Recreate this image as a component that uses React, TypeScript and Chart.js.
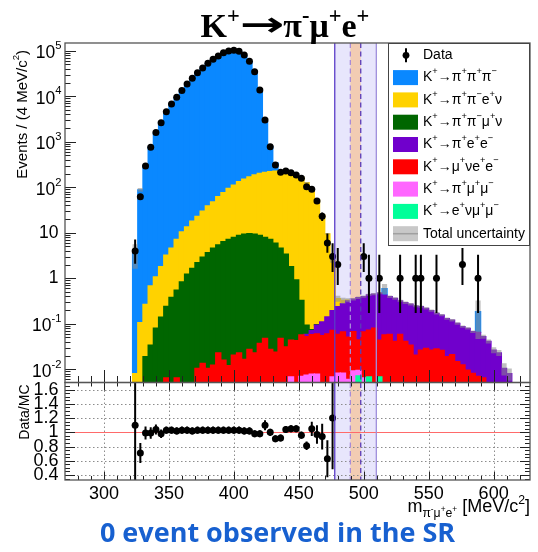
import React, { useEffect, useRef } from 'react';
import { Chart, registerables } from 'chart.js';

Chart.register(...registerables);

// ---------------- data ----------------
// bin centres, 4 MeV/c^2 bins
const binCenters = [
  324, 328, 332, 336, 340, 344, 348, 352, 356, 360,
  364, 368, 372, 376, 380, 384, 388, 392, 396, 400,
  404, 408, 412, 416, 420, 424, 428, 432, 436, 440,
  444, 448, 452, 456, 460, 464, 468, 472, 476, 480,
  484, 488, 492, 496, 500, 504, 508, 512, 516, 520,
  524, 528, 532, 536, 540, 544, 548, 552, 556, 560,
  564, 568, 572, 576, 580, 584, 588, 592, 596, 600,
  604, 608, 612,
];

const kPiPiPi = [
  3.6, 88, 297, 764, 1529, 2678, 4447, 6595, 9213, 12890,
  18046, 24182, 31977, 40670, 51511, 63052, 74638, 88124, 96005, 99388,
  94567, 78350, 57430, 35214, 13797, 2526, 560, 115, 3, 0,
  0, 0, 0, 0, 0, 0, 0, 0, 0, 0,
  0, 0, 0, 0, 0, 0, 0, 0, 0.17, 0,
  0, 0, 0, 0, 0, 0, 0, 0, 0, 0,
  0, 0, 0, 0, 0, 0, 0.12, 0, 0, 0,
  0, 0, 0,
];
const kPiPiENu = [
  0.008, 0.106, 0.25, 0.65, 1.0, 1.66, 3.0, 4.2, 6.65, 9.7,
  12.3, 16.3, 20.8, 27.1, 35.3, 43.4, 56.6, 69.6, 87.8, 104,
  124, 141, 160, 177, 194, 206, 213, 222, 225, 216,
  197, 176, 165, 126, 86, 52, 24.5, 9.3, 2.3, 0.12,
  0.05, 0.01, 0, 0, 0, 0, 0, 0, 0, 0,
  0, 0, 0, 0, 0, 0, 0, 0, 0, 0,
  0, 0, 0, 0, 0, 0, 0, 0, 0, 0,
  0, 0, 0,
];
const kPiPiMuNu = [
  0, 0, 0.019, 0.034, 0.08, 0.14, 0.235, 0.38, 0.545, 0.84,
  1.24, 1.66, 2.19, 2.89, 3.64, 4.59, 5.38, 6.38, 7.19, 7.88,
  8.78, 9.38, 9.57, 9.38, 8.76, 7.85, 7.17, 5.88, 4.55, 3.37,
  1.76, 0.88, 0.27, 0.035, 0.004, 0.002, 0, 0, 0, 0,
  0, 0, 0, 0, 0, 0, 0, 0, 0, 0,
  0, 0, 0, 0, 0, 0, 0, 0, 0, 0,
  0, 0, 0, 0, 0, 0, 0, 0, 0, 0,
  0, 0, 0,
];
const kPiEE = [
  0, 0, 0, 0, 0, 0, 0, 0, 0, 0,
  0, 0, 0, 0, 0, 0, 0, 0, 0, 0,
  0, 0, 0, 0, 0, 0, 0, 0, 0, 0,
  0, 0, 0, 0.006, 0.013, 0.034, 0.055, 0.083, 0.122, 0.18,
  0.21, 0.27, 0.28, 0.33, 0.33, 0.36, 0.37, 0.43, 0.37, 0.335,
  0.32, 0.26, 0.25, 0.236, 0.225, 0.213, 0.19, 0.168, 0.142, 0.129,
  0.111, 0.099, 0.087, 0.0745, 0.07, 0.059, 0.058, 0.0455, 0.041, 0.0265,
  0.023, 0.0105, 0.008,
];
const kMuNuEE = [
  0, 0, 0, 0, 0, 0, 0.0065, 0, 0.0065, 0,
  0, 0, 0.0105, 0.0135, 0.0105, 0.0124, 0.023, 0.016, 0.012, 0.0206,
  0.023, 0.0166, 0.0275, 0.023, 0.037, 0.048, 0.0275, 0.024, 0.048, 0.031,
  0.037, 0.043, 0.05, 0.045, 0.05, 0.052, 0.055, 0.06, 0.065, 0.05,
  0.058, 0.045, 0.058, 0.035, 0.06, 0.066, 0.08, 0.037, 0.057, 0.059,
  0.041, 0.059, 0.041, 0.034, 0.0206, 0.0265, 0.029, 0.0265, 0.028, 0.026,
  0.019, 0.021, 0.0147, 0.0125, 0.0096, 0.0082, 0.007, 0.0065, 0, 0,
  0, 0, 0,
];
const kPiMuMu = [
  0, 0, 0, 0, 0, 0, 0, 0, 0, 0,
  0, 0, 0, 0, 0, 0, 0, 0, 0, 0,
  0, 0, 0, 0, 0, 0, 0, 0, 0, 0,
  0.0068, 0, 0.007, 0.0075, 0.0078, 0.0078, 0, 0, 0.0068, 0.0083,
  0.0083, 0.006, 0.0092, 0.0023, 0.0065, 0, 0, 0, 0, 0,
  0, 0, 0, 0, 0, 0, 0, 0, 0, 0,
  0, 0, 0, 0, 0, 0, 0, 0, 0, 0,
  0, 0, 0,
];
const kENuMuMu = [
  0, 0, 0, 0, 0, 0, 0, 0, 0, 0,
  0, 0, 0, 0, 0, 0, 0, 0, 0, 0,
  0, 0, 0, 0, 0, 0, 0, 0, 0, 0,
  0, 0, 0, 0, 0, 0, 0, 0, 0, 0,
  0, 0, 0, 0.0072, 0, 0.0068, 0, 0.0068, 0, 0,
  0, 0, 0, 0, 0, 0, 0, 0, 0, 0,
  0, 0, 0, 0, 0, 0, 0, 0, 0, 0,
  0, 0, 0,
];
// relative total MC uncertainty per bin
const mcRelUncertainty = [
  0.55, 0.1, 0.03, 0.03, 0.03, 0.03, 0.03, 0.03, 0.03, 0.03,
  0.03, 0.03, 0.03, 0.03, 0.03, 0.03, 0.03, 0.03, 0.03, 0.03,
  0.03, 0.03, 0.03, 0.03, 0.03, 0.03, 0.03, 0.03, 0.03, 0.03,
  0.03, 0.03, 0.03, 0.03, 0.03, 0.03, 0.03, 0.03, 0.12, 0.15,
  0.15, 0.1, 0.06, 0.06, 0.06, 0.06, 0.06, 0.06, 0.25, 0.06,
  0.06, 0.06, 0.06, 0.06, 0.06, 0.06, 0.06, 0.06, 0.06, 0.06,
  0.06, 0.06, 0.06, 0.06, 0.06, 0.06, 0.75, 0.1, 0.1, 0.15,
  0.15, 0.3, 0.3,
];
// observed events (null = empty bin)
const dataCounts = [
  4, 62, 294, 757, 1590, 2630, 4580, 6800, 9500, 13300,
  18600, 24900, 33000, 41900, 53100, 65000, 76900, 90800, 99000, 102500,
  97500, 80900, 58800, 34700, 13700, 3010, 780, 309, 214, 228,
  209, 186, 158, 103, 90, 50, 23, 6, 3, 2,
  null, null, null, null, 3, 1, null, 1, null, null,
  null, 1, null, null, 1, 1, null, null, 1, null,
  null, null, null, 2, null, null, 1, null, null, null,
  null, null, null,
];
// Data/MC ratio (first 39 bins)
const ratioValues = [
  1.10, 0.71, 0.99, 0.99, 1.04, 0.98, 1.03, 1.03, 1.02, 1.03,
  1.03, 1.02, 1.03, 1.03, 1.03, 1.03, 1.03, 1.03, 1.03, 1.03,
  1.03, 1.02, 1.02, 0.98, 0.98, 1.10, 1.00, 0.91, 0.92, 1.04,
  1.05, 1.05, 0.96, 0.81, 1.05, 0.97, 0.94, 0.63, 1.20,
];
const ratioErrLow = [
  1.2, 0.14, 0.09, 0.08, 0.07, 0.06, 0.05, 0.05, 0.05, 0.05,
  0.05, 0.05, 0.05, 0.05, 0.05, 0.05, 0.05, 0.05, 0.05, 0.05,
  0.05, 0.05, 0.05, 0.05, 0.05, 0.07, 0.05, 0.05, 0.05, 0.05,
  0.05, 0.05, 0.05, 0.06, 0.1, 0.13, 0.18, 0.26, 0.72,
];
const ratioErrHigh = [
  1.2, 0.14, 0.09, 0.08, 0.07, 0.06, 0.05, 0.05, 0.05, 0.05,
  0.05, 0.05, 0.05, 0.05, 0.05, 0.05, 0.05, 0.05, 0.05, 0.05,
  0.05, 0.05, 0.05, 0.05, 0.05, 0.07, 0.05, 0.05, 0.05, 0.05,
  0.05, 0.05, 0.05, 0.06, 0.1, 0.13, 0.18, 0.26, 1.0,
];

const xTickLabels = ['300', '350', '400', '450', '500', '550', '600'];
const ratioTickLabels = ['0.4', '0.6', '0.8', '1', '1.2', '1.4', '1.6'];
const logTickExponents = [-2, -1, 0, 1, 2, 3, 4, 5];
const logTickLabels = ['10^{-2}', '10^{-1}', '1', '10', '10^{2}', '10^{3}', '10^{4}', '10^{5}'];
const srOuter = [477.68, 509.68];
const srInner = [489.68, 497.68];

const titleText = 'K^{+}→π^{-}μ^{+}e^{+}';
const yTitle = 'Events / (4 MeV/c^{2})';
const ratioTitle = 'Data/MC';
const xTitle = 'm_{π^{-}μ^{+}e^{+}} [MeV/c^{2}]';
const captionText = '0 event observed in the SR';

// stack, bottom -> top
const stackDefs = [
  { label: 'K^{+}→e^{+}νμ^{+}μ^{−}', values: kENuMuMu, color: '#00ff99' },
  { label: 'K^{+}→π^{+}μ^{+}μ^{−}', values: kPiMuMu, color: '#ff66ff' },
  { label: 'K^{+}→μ^{+}νe^{+}e^{−}', values: kMuNuEE, color: '#ff0000' },
  { label: 'K^{+}→π^{+}e^{+}e^{−}', values: kPiEE, color: '#7000cc' },
  { label: 'K^{+}→π^{+}π^{−}μ^{+}ν', values: kPiPiMuNu, color: '#006600' },
  { label: 'K^{+}→π^{+}π^{−}e^{+}ν', values: kPiPiENu, color: '#ffd200' },
  { label: 'K^{+}→π^{+}π^{+}π^{−}', values: kPiPiPi, color: '#0a88ff' },
];

const poisson68: Record<number, [number, number]> = {
  1: [0.173, 3.3], 2: [0.708, 4.638], 3: [1.367, 5.918], 4: [2.086, 7.163],
  5: [2.84, 8.382], 6: [3.62, 9.584], 7: [4.419, 10.77], 8: [5.232, 11.95],
  9: [6.057, 13.11], 10: [6.891, 14.27],
};
function dataInterval(n: number): [number, number] {
  if (n <= 10) return poisson68[n];
  const s = Math.sqrt(n);
  return [n - s, n + s];
}

// ---------------- drawing helpers ----------------
const SANS = "'Liberation Sans', Arial, Helvetica, sans-serif";
const SERIF = "'Liberation Serif', 'Times New Roman', serif";

type Seg = { t: string; s: number; dy: number };
function parseRich(str: string, supScale: number, scale = 1, dy = 0, out: Seg[] = []): Seg[] {
  let buf = '';
  let i = 0;
  const flush = () => {
    if (buf) out.push({ t: buf, s: scale, dy });
    buf = '';
  };
  while (i < str.length) {
    const c = str[i];
    if ((c === '^' || c === '_') && str[i + 1] === '{') {
      flush();
      let depth = 0;
      let j = i + 1;
      for (; j < str.length; j++) {
        if (str[j] === '{') depth++;
        else if (str[j] === '}') {
          depth--;
          if (depth === 0) break;
        }
      }
      const inner = str.slice(i + 2, j);
      const ns = scale * supScale;
      const ndy = dy + (c === '^' ? -0.42 * scale : 0.3 * scale);
      parseRich(inner, supScale, ns, ndy, out);
      i = j + 1;
    } else {
      buf += c;
      i++;
    }
  }
  flush();
  return out;
}

type RichOpts = {
  family?: string; weight?: string; align?: 'left' | 'right' | 'center'; color?: string;
  baseline?: CanvasTextBaseline; supScale?: number;
  arrowInk?: number; arrowGap?: number; arrowFamily?: string; arrowLift?: number;
};

function drawRich(ctx: CanvasRenderingContext2D, str: string, x: number, y: number, size: number, o: RichOpts) {
  const family = o.family || SANS;
  const weight = o.weight || 'normal';
  const raw = parseRich(str, o.supScale || 0.64);
  // arrows get their own segments so they can be drawn at a chosen ink length
  const segs: Seg[] = [];
  for (const g of raw) {
    const parts = g.t.split(/(→)/).filter((p) => p.length);
    for (const p of parts) segs.push({ t: p, s: g.s, dy: g.dy });
  }
  const fontFor = (g: Seg) => {
    const fam = g.t === '→' && o.arrowFamily ? o.arrowFamily : family;
    return `${weight} ${size * g.s}px ${fam}`;
  };
  const widths: number[] = [];
  const arrowInfo: any[] = [];
  let total = 0;
  for (const g of segs) {
    const fs = size * g.s;
    ctx.font = fontFor(g);
    const m = ctx.measureText(g.t);
    let w = m.width;
    if (g.t === '→' && o.arrowInk) {
      const inkL = -m.actualBoundingBoxLeft;
      const inkR = m.actualBoundingBoxRight;
      const inkW = Math.max(inkR - inkL, 1);
      const target = o.arrowInk * fs;
      const gap = (o.arrowGap || 0) * fs;
      const sx = target / inkW;
      arrowInfo.push({ sx, inkL, gap, lift: (o.arrowLift || 0) * fs });
      w = target + 2 * gap;
    } else {
      arrowInfo.push(null);
    }
    widths.push(w);
    total += w;
  }
  let cx = o.align === 'right' ? x - total : o.align === 'center' ? x - total / 2 : x;
  ctx.textAlign = 'left';
  ctx.textBaseline = o.baseline || 'alphabetic';
  ctx.fillStyle = o.color || '#000';
  segs.forEach((g, k) => {
    ctx.font = fontFor(g);
    const a = arrowInfo[k];
    if (a) {
      ctx.save();
      ctx.translate(cx + a.gap - a.inkL * a.sx, y + g.dy * size - a.lift);
      ctx.scale(a.sx, 1);
      ctx.fillText(g.t, 0, 0);
      ctx.restore();
    } else {
      ctx.fillText(g.t, cx, y + g.dy * size);
    }
    cx += widths[k];
  });
  return total;
}

function seg(ctx: CanvasRenderingContext2D, x1: number, y1: number, x2: number, y2: number) {
  ctx.beginPath();
  ctx.moveTo(x1, y1);
  ctx.lineTo(x2, y2);
  ctx.stroke();
}

const hepPlugin = {
  id: 'hep',
  beforeDatasetDraw(chart: any, args: any) {
    const ys = args.meta.yScale;
    const ca = chart.chartArea;
    const ctx = chart.ctx;
    ctx.save();
    ctx.beginPath();
    ctx.rect(ca.left, ys.top, ca.right - ca.left, ys.bottom - ys.top);
    ctx.clip();
  },
  afterDatasetDraw(chart: any) {
    chart.ctx.restore();
  },
  beforeDatasetsDraw(chart: any) {
    const ctx: CanvasRenderingContext2D = chart.ctx;
    const ca = chart.chartArea;
    const xs = chart.scales.x;
    const ys = chart.scales.y;
    const rs = chart.scales.y2;
    const top = ys.top;
    const bot = rs.bottom;
    ctx.save();
    const xo1 = xs.getPixelForValue(srOuter[0]);
    const xo2 = xs.getPixelForValue(srOuter[1]);
    const xi1 = xs.getPixelForValue(srInner[0]);
    const xi2 = xs.getPixelForValue(srInner[1]);
    ctx.fillStyle = '#e8e6fc';
    ctx.fillRect(xo1, top, xo2 - xo1, bot - top);
    ctx.fillStyle = '#f2ccb3';
    ctx.fillRect(xi1, top, xi2 - xi1, bot - top);
    // ratio grid
    ctx.strokeStyle = '#8c8c8c';
    ctx.lineWidth = 1;
    ctx.setLineDash([1.5, 2.5]);
    for (const lab of ratioTickLabels) {
      const v = Number(lab);
      if (v === 1) continue;
      const py = Math.round(rs.getPixelForValue(v)) + 0.5;
      seg(ctx, ca.left, py, ca.right, py);
    }
    for (const lab of xTickLabels) {
      const px = Math.round(xs.getPixelForValue(Number(lab))) + 0.5;
      seg(ctx, px, rs.top, px, rs.bottom);
    }
    ctx.setLineDash([]);
    ctx.strokeStyle = '#ff6a6a';
    const p1 = Math.round(rs.getPixelForValue(1)) + 0.5;
    seg(ctx, ca.left, p1, ca.right, p1);
    ctx.restore();
  },
  afterDatasetsDraw(chart: any) {
    const ctx: CanvasRenderingContext2D = chart.ctx;
    const ca = chart.chartArea;
    const xs = chart.scales.x;
    const ys = chart.scales.y;
    const rs = chart.scales.y2;
    ctx.save();

    // data error bars (main)
    ctx.save();
    ctx.beginPath();
    ctx.rect(ca.left, ys.top, ca.right - ca.left, ys.bottom - ys.top);
    ctx.clip();
    ctx.strokeStyle = '#000';
    ctx.lineWidth = 2;
    binCenters.forEach((m, i) => {
      const n = dataCounts[i];
      if (!n) return;
      const [lo, hi] = dataInterval(n);
      const px = xs.getPixelForValue(m);
      seg(ctx, px, ys.getPixelForValue(Math.max(lo, ys.min)), px, ys.getPixelForValue(hi));
    });
    ctx.restore();

    // ratio error bars
    ctx.save();
    ctx.beginPath();
    ctx.rect(ca.left, rs.top, ca.right - ca.left, rs.bottom - rs.top);
    ctx.clip();
    ctx.strokeStyle = '#000';
    ctx.lineWidth = 2;
    ratioValues.forEach((r, i) => {
      const px = xs.getPixelForValue(binCenters[i]);
      seg(ctx, px, rs.getPixelForValue(r - ratioErrLow[i]), px, rs.getPixelForValue(r + ratioErrHigh[i]));
    });
    ctx.restore();

    // SR lines
    const top = ys.top;
    const bot = rs.bottom;
    const xo1 = xs.getPixelForValue(srOuter[0]);
    const xo2 = xs.getPixelForValue(srOuter[1]);
    const xi1 = xs.getPixelForValue(srInner[0]);
    const xi2 = xs.getPixelForValue(srInner[1]);
    ctx.lineWidth = 1.3;
    ctx.strokeStyle = '#5a3cc8';
    seg(ctx, xo1, top, xo1, bot);
    ctx.strokeStyle = '#9f90dc';
    seg(ctx, xo2, top, xo2, bot);
    ctx.setLineDash([5, 3.5]);
    ctx.strokeStyle = '#a88bd8';
    seg(ctx, xi1, top, xi1, bot);
    ctx.strokeStyle = '#5b3bb5';
    seg(ctx, xi2, top, xi2, bot);
    ctx.setLineDash([]);

    // ticks
    ctx.strokeStyle = '#222';
    ctx.lineWidth = 1;
    for (let m = 280; m <= 620; m += 10) {
      const px = Math.round(xs.getPixelForValue(m)) + 0.5;
      const major = m % 50 === 0;
      seg(ctx, px, ys.bottom, px, ys.bottom - (major ? 12.5 : 6.5));
      seg(ctx, px, rs.bottom, px, rs.bottom - (major ? 8 : 4));
      seg(ctx, px, rs.top, px, rs.top + (major ? 8 : 4));
    }
    for (let e = -3; e <= 5; e++) {
      for (let d = 1; d <= 9; d++) {
        const v = d * Math.pow(10, e);
        if (v < ys.min || v > ys.max) continue;
        const py = Math.round(ys.getPixelForValue(v)) + 0.5;
        seg(ctx, ca.left, py, ca.left + (d === 1 ? 11 : 5.5), py);
      }
    }
    for (let k = 7; k <= 34; k++) {
      const v = k * 0.05;
      if (v < rs.min || v > rs.max) continue;
      const py = Math.round(rs.getPixelForValue(v)) + 0.5;
      const major = k % 4 === 0;
      seg(ctx, ca.left, py, ca.left + (major ? 10 : 5), py);
      seg(ctx, ca.right, py, ca.right - (major ? 10 : 5), py);
    }

    // frames
    ctx.strokeStyle = '#555';
    ctx.lineWidth = 1.3;
    ctx.strokeRect(ca.left, ys.top, ca.right - ca.left, ys.bottom - ys.top);
    ctx.strokeRect(ca.left, rs.top, ca.right - ca.left, rs.bottom - rs.top);

    // tick labels
    logTickExponents.forEach((e, i) => {
      const py = ys.getPixelForValue(Math.pow(10, e));
      const lab = logTickLabels[i];
      const plain = lab.indexOf('^') < 0;
      drawRich(ctx, lab, plain ? 58.5 : 61.5, py + (plain ? 0 : 2.5), 17.5, { align: 'right', baseline: 'middle' });
    });
    ratioTickLabels.forEach((lab) => {
      const py = rs.getPixelForValue(Number(lab));
      drawRich(ctx, lab, 58.5, py, 18, { align: 'right', baseline: 'middle' });
    });
    xTickLabels.forEach((lab) => {
      const px = xs.getPixelForValue(Number(lab));
      drawRich(ctx, lab, px, 498.5, 18, { align: 'center' });
    });

    // axis titles
    drawRich(ctx, xTitle, 530, 512, 18, { align: 'right', supScale: 0.68 });
    ctx.save();
    ctx.translate(23, 50);
    ctx.rotate(-Math.PI / 2);
    drawRich(ctx, yTitle, 0, 0, 15, { align: 'right', baseline: 'middle' });
    ctx.restore();
    ctx.save();
    ctx.translate(25, rs.top + 2);
    ctx.rotate(-Math.PI / 2);
    drawRich(ctx, ratioTitle, 0, 0, 14, { align: 'right', baseline: 'middle' });
    ctx.restore();

    // legend
    const lx0 = 388;
    const ly0 = ys.top;
    const lx1 = ca.right;
    const ly1 = 246;
    ctx.fillStyle = '#fff';
    ctx.fillRect(lx0, ly0, lx1 - lx0, ly1 - ly0);
    ctx.strokeStyle = '#444';
    ctx.lineWidth = 1;
    ctx.strokeRect(lx0 + 0.5, ly0 + 0.5, lx1 - lx0 - 1, ly1 - ly0 - 1);
    const rowY = (k: number) => 55.3 + 22.3 * k;
    // data entry
    ctx.strokeStyle = '#000';
    ctx.lineWidth = 2;
    seg(ctx, 406, rowY(0) - 7, 406, rowY(0) + 7);
    ctx.fillStyle = '#000';
    ctx.beginPath();
    ctx.arc(406, rowY(0), 3.4, 0, Math.PI * 2);
    ctx.fill();
    drawRich(ctx, 'Data', 423, rowY(0), 14, { baseline: 'middle' });
    const legendOrder = [...stackDefs].reverse();
    legendOrder.forEach((d, k) => {
      const cy = rowY(k + 1);
      ctx.fillStyle = d.color;
      ctx.fillRect(393, cy - 7.5, 25, 15);
      drawRich(ctx, d.label, 423, cy, 14, { baseline: 'middle', supScale: 0.66 });
    });
    const cyU = rowY(8);
    ctx.fillStyle = '#c8c8c8';
    ctx.fillRect(393, cyU - 7.5, 25, 15);
    ctx.strokeStyle = '#a0a0a0';
    ctx.lineWidth = 1.5;
    seg(ctx, 393, cyU, 418, cyU);
    drawRich(ctx, 'Total uncertainty', 423, cyU, 14, { baseline: 'middle' });

    // title
    drawRich(ctx, titleText, 285, 37, 34, {
      family: SERIF, weight: 'bold', align: 'center', supScale: 0.66,
      arrowInk: 1.2, arrowGap: 0.04, arrowFamily: "'DejaVu Sans', sans-serif", arrowLift: 0.04,
    });

    // caption
    ctx.font = "bold 27px 'Open Sans', 'Noto Sans', sans-serif";
    ctx.fillStyle = '#1760d0';
    ctx.textAlign = 'center';
    ctx.textBaseline = 'alphabetic';
    ctx.fillText(captionText, 277.5, 542);

    ctx.restore();
  },
};

export default function App() {
  const ref = useRef<HTMLCanvasElement>(null);
  useEffect(() => {
    document.body.style.margin = '0';
    const canvas = ref.current;
    if (!canvas) return;

    const totals = binCenters.map((_, i) => stackDefs.reduce((s, d) => s + d.values[i], 0));

    const barCommon = {
      type: 'bar' as const,
      grouped: false,
      barPercentage: 1,
      categoryPercentage: 1,
      borderWidth: 0,
      inflateAmount: 0.6,
      yAxisID: 'y',
      xAxisID: 'x',
    };

    const datasets: any[] = [
      {
        type: 'scatter',
        label: 'Data',
        data: binCenters.map((m, i) => (dataCounts[i] ? { x: m, y: dataCounts[i] } : null)).filter(Boolean),
        showLine: false,
        pointRadius: 3.5,
        pointBackgroundColor: '#000',
        pointBorderWidth: 0,
        pointBorderColor: '#000',
        yAxisID: 'y',
        xAxisID: 'x',
        order: 0,
      },
      {
        type: 'scatter',
        label: 'Ratio',
        data: ratioValues.map((r, i) => ({ x: binCenters[i], y: r })),
        showLine: false,
        pointRadius: 3.5,
        pointBackgroundColor: '#000',
        pointBorderWidth: 0,
        yAxisID: 'y2',
        xAxisID: 'x',
        order: 0,
      },
      {
        ...barCommon,
        inflateAmount: 0,
        label: 'Total uncertainty',
        data: binCenters.map((m, i) => ({
          x: m,
          y: [Math.max(totals[i] * (1 - mcRelUncertainty[i]), 1e-4), totals[i] * (1 + mcRelUncertainty[i])],
        })).filter((_, i) => totals[i] > 0),
        backgroundColor: 'rgba(140,140,140,0.55)',
        order: 1,
      },
      ...stackDefs.map((d) => ({
        ...barCommon,
        label: d.label,
        data: binCenters.map((m, i) => ({ x: m, y: d.values[i] })),
        backgroundColor: d.color,
        stack: 'mc',
        order: 2,
      })),
    ];

    const chart = new Chart(canvas, {
      type: 'bar',
      data: { datasets },
      options: {
        animation: false,
        responsive: false,
        maintainAspectRatio: false,
        events: [],
        layout: { padding: { left: 65, right: 8, top: 43, bottom: 72 } },
        plugins: { legend: { display: false }, tooltip: { enabled: false }, title: { display: false } },
        scales: {
          x: {
            type: 'linear',
            min: 270,
            max: 628,
            offset: false,
            grid: { display: false },
            border: { display: false },
            ticks: { display: false, stepSize: 50 },
            afterFit: (s: any) => { s.height = 0; },
          },
          y: {
            type: 'logarithmic',
            position: 'left',
            min: 0.00513,
            max: 148000,
            stacked: true,
            stack: 'panels',
            stackWeight: 339.5,
            weight: 1,
            grid: { display: false },
            border: { display: false },
            ticks: { display: false },
            afterFit: (s: any) => { s.width = 0; },
          },
          y2: {
            type: 'linear',
            position: 'left',
            min: 0.33,
            max: 1.7,
            stack: 'panels',
            stackWeight: 97.5,
            weight: 0,
            grid: { display: false },
            border: { display: false },
            ticks: { display: false },
            afterFit: (s: any) => { s.width = 0; },
          },
        },
      } as any,
      plugins: [hepPlugin as any],
    });
    return () => chart.destroy();
  }, []);

  return (
    <div style={{ position: 'fixed', left: 0, top: 0, width: 538, height: 552, background: '#fff' }}>
      <canvas ref={ref} width={538} height={552} style={{ display: 'block', width: 538, height: 552 }} />
    </div>
  );
}
